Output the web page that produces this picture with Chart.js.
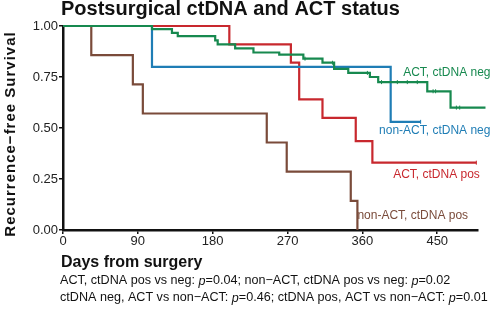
<!DOCTYPE html>
<html>
<head>
<meta charset="utf-8">
<script src="https://cdn.jsdelivr.net/npm/chart.js@4/dist/chart.umd.min.js"></script>
<style>
  body { margin: 0; background: #fff; }
  #wrap { width: 494px; height: 312px; }
</style>
</head>
<body>
<div id="wrap"><canvas id="km" width="494" height="312"></canvas></div>
<script>
// Kaplan-Meier steps (day, survival)
const actNegDays = [0, 107, 131, 138, 183, 186, 207, 229, 260, 289, 312, 326, 343, 369, 379, 438, 466, 508];
const actNegSurv = [1, 0.985, 0.966, 0.95, 0.93, 0.91, 0.89, 0.87, 0.86, 0.84, 0.82, 0.79, 0.77, 0.75, 0.725, 0.68, 0.60, 0.60];

const nonActNegDays = [0, 107, 394, 430];
const nonActNegSurv = [1, 0.80, 0.53, 0.53];

const actPosDays = [0, 200, 274, 284, 312, 352, 372, 497];
const actPosSurv = [1, 0.91, 0.82, 0.64, 0.55, 0.436, 0.33, 0.33];

const nonActPosDays = [0, 34, 84, 96, 245, 269, 346, 354];
const nonActPosSurv = [1, 0.857, 0.714, 0.571, 0.429, 0.286, 0.143, 0];

// censor ticks
const actNegCensorDays = [291, 324, 366, 383, 402, 414, 426, 445, 448, 473, 477, 508];
const actNegCensorSurv = [0.84, 0.82, 0.77, 0.725, 0.725, 0.725, 0.725, 0.68, 0.68, 0.60, 0.60, 0.60];
const nonActNegCensorDays = [430];
const nonActNegCensorSurv = [0.53];
const actPosCensorDays = [497];
const actPosCensorSurv = [0.33];

const xTicks = [0, 90, 180, 270, 360, 450];
const yTicks = [0, 0.25, 0.5, 0.75, 1];

const groupNames = ['ACT, ctDNA neg', 'non-ACT, ctDNA neg', 'ACT, ctDNA pos', 'non-ACT, ctDNA pos'];
const groupColors = ['#17894f', '#1f7db5', '#c8282e', '#7a4b3a'];

const titleText = 'Postsurgical ctDNA and ACT status';
const yTitle = 'Recurrence\u2212free Survival';
const xTitle = 'Days from surgery';
const footLines = [
  ['ACT, ctDNA pos vs neg: ', 'p', '=0.04; non\u2212ACT, ctDNA pos vs neg: ', 'p', '=0.02'],
  ['ctDNA neg, ACT vs non\u2212ACT: ', 'p', '=0.46; ctDNA pos, ACT vs non\u2212ACT: ', 'p', '=0.01']
];

function pts(xs, ys) {
  return xs.map((x, i) => ({ x: x, y: ys[i] }));
}

function curve(i, xs, ys) {
  return {
    label: groupNames[i],
    data: pts(xs, ys),
    borderColor: groupColors[i],
    backgroundColor: groupColors[i],
    borderWidth: 2.2,
    stepped: 'before',
    pointRadius: 0,
    fill: false,
    clip: false
  };
}

function censor(i, xs, ys) {
  return {
    type: 'scatter',
    label: groupNames[i] + ' censored',
    data: pts(xs, ys),
    borderColor: groupColors[i],
    pointStyle: 'line',
    rotation: 90,
    pointRadius: 2,
    pointBorderWidth: 1,
    showLine: false,
    clip: false
  };
}

// label anchors in data units (left edge, vertical centre)
const labelDay = [409, 380, 397, 354];
const labelSurv = [0.77, 0.485, 0.27, 0.07];

const textPlugin = {
  id: 'texts',
  afterDraw(chart) {
    const ctx = chart.ctx;
    const xs = chart.scales.x;
    const ys = chart.scales.y;
    const area = chart.chartArea;
    ctx.save();

    ctx.fillStyle = '#111';
    ctx.textAlign = 'left';
    ctx.textBaseline = 'alphabetic';
    ctx.font = 'bold 20px "Liberation Sans", Arial, sans-serif';
    ctx.fillText(titleText, 61, 15);

    ctx.font = 'bold 16px "Liberation Sans", Arial, sans-serif';
    ctx.fillText(xTitle, 61, 267);

    ctx.save();
    ctx.translate(15, (area.top + area.bottom) / 2 + 6);
    ctx.rotate(-Math.PI / 2);
    ctx.textAlign = 'center';
    ctx.font = 'bold 15px "Liberation Sans", Arial, sans-serif';
    ctx.letterSpacing = '1px';
    ctx.fillText(yTitle, 0, 0);
    ctx.restore();

    // footnotes with italic p
    ctx.textBaseline = 'middle';
    footLines.forEach((parts, li) => {
      let x = 60;
      const y = 281 + li * 17;
      parts.forEach((p) => {
        ctx.font = (p === 'p' ? 'italic ' : '') + '12.6px "Liberation Sans", Arial, sans-serif';
        ctx.fillText(p, x, y);
        x += ctx.measureText(p).width;
      });
    });

    // group labels
    ctx.font = '12px "Liberation Sans", Arial, sans-serif';
    groupNames.forEach((name, i) => {
      ctx.fillStyle = groupColors[i];
      ctx.fillText(name, xs.getPixelForValue(labelDay[i]), ys.getPixelForValue(labelSurv[i]));
    });
    ctx.restore();
  }
};

new Chart(document.getElementById('km').getContext('2d'), {
  type: 'line',
  data: {
    datasets: [
      curve(0, actNegDays, actNegSurv),
      curve(1, nonActNegDays, nonActNegSurv),
      curve(2, actPosDays, actPosSurv),
      curve(3, nonActPosDays, nonActPosSurv),
      censor(0, actNegCensorDays, actNegCensorSurv),
      censor(1, nonActNegCensorDays, nonActNegCensorSurv),
      censor(2, actPosCensorDays, actPosCensorSurv)
    ]
  },
  options: {
    responsive: false,
    animation: false,
    layout: { padding: { left: 0, right: 16, top: 26, bottom: 0 } },
    plugins: {
      legend: { display: false },
      tooltip: { enabled: false }
    },
    scales: {
      x: {
        type: 'linear',
        min: 0,
        max: 499,
        afterBuildTicks: (s) => { s.ticks = xTicks.map(v => ({ value: v })); },
        afterFit: (s) => { s.height = 82; },
        border: { color: '#111', width: 2.5 },
        grid: { drawOnChartArea: false, tickLength: 4, color: '#111', lineWidth: 1.5 },
        ticks: {
          color: '#222',
          padding: 0,
          maxRotation: 0,
          font: { family: '"Liberation Sans", Arial, sans-serif', size: 13 }
        }
      },
      y: {
        min: 0,
        max: 1,
        afterBuildTicks: (s) => { s.ticks = yTicks.map(v => ({ value: v })); },
        afterFit: (s) => { s.width = 63; },
        border: { color: '#111', width: 2.5 },
        grid: { drawOnChartArea: false, tickLength: 4, color: '#111', lineWidth: 1.5 },
        ticks: {
          color: '#222',
          padding: 1,
          callback: (v) => v.toFixed(2),
          font: { family: '"Liberation Sans", Arial, sans-serif', size: 13 }
        }
      }
    }
  },
  plugins: [textPlugin]
});
</script>
</body>
</html>
